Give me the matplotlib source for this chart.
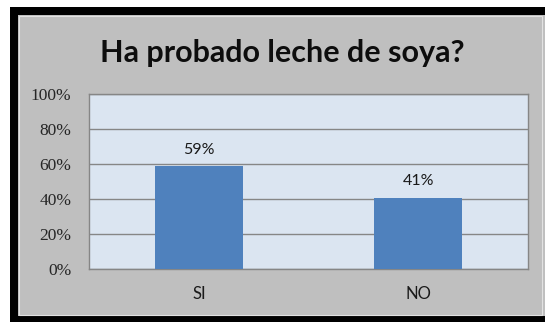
import matplotlib.pyplot as plt
from matplotlib.patches import Rectangle

categories = ['SI', 'NO']
values = [59, 41]
yticks = [0, 20, 40, 60, 80, 100]
ytick_labels = ['0%', '20%', '40%', '60%', '80%', '100%']
title = 'Ha probado leche de soya?'

W, H = 545, 322
fig = plt.figure(figsize=(W / 100, H / 100), dpi=100, facecolor='white')

# background: black frame, gray panel with a thin light edge
bg = fig.add_axes([0, 0, 1, 1])
bg.set_xlim(0, W)
bg.set_ylim(H, 0)
bg.axis('off')
bg.add_patch(Rectangle((10, 7), W, H, facecolor='black', edgecolor='none', clip_on=False))
bg.add_patch(Rectangle((18, 15), W, 301, facecolor='#bfbfbf', edgecolor='none', clip_on=False))
bg.add_patch(Rectangle((18.5, 15.5), 523, 299, facecolor='none', edgecolor='#e2e2e2', lw=0.8))
bg.text(282, 61.7, title, ha='center', va='baseline', fontsize=22,
        fontweight='bold', family='Lato', color='#0d0d0d')

# plot area in pixel box 89..528 x 94..269
l, r, t, b = 89.3, 528, 94.3, 269.3
ax = fig.add_axes([l / W, 1 - b / H, (r - l) / W, (b - t) / H])
ax.set_facecolor('#dbe5f1')

x = range(len(categories))
bars = ax.bar(x, values, width=0.4, color='#4f81bd', zorder=3)
ax.set_xlim(-0.5, 1.5)
ax.set_ylim(0, 100)
ax.set_yticks(yticks)
ax.set_yticklabels(ytick_labels, fontfamily='Liberation Serif', fontsize=12.5, color='#262626')
ax.set_xticks(list(x))
ax.set_xticklabels(categories, fontfamily='Lato', fontsize=12, color='#1a1a1a')

ax.grid(axis='y', color='#868686', lw=1, zorder=1)
for s in ax.spines.values():
    s.set_color('#868686')
    s.set_linewidth(1)
ax.tick_params(axis='both', length=0)
ax.tick_params(axis='y', pad=13)
ax.tick_params(axis='x', pad=12)

for rect, v in zip(bars, values):
    ax.annotate(f'{v}%', (rect.get_x() + rect.get_width() / 2, v),
                xytext=(0, 9), textcoords='offset points', ha='center', va='baseline',
                family='Lato', fontsize=11.5, color='#1a1a1a')

fig.savefig('out.png', dpi=100)
